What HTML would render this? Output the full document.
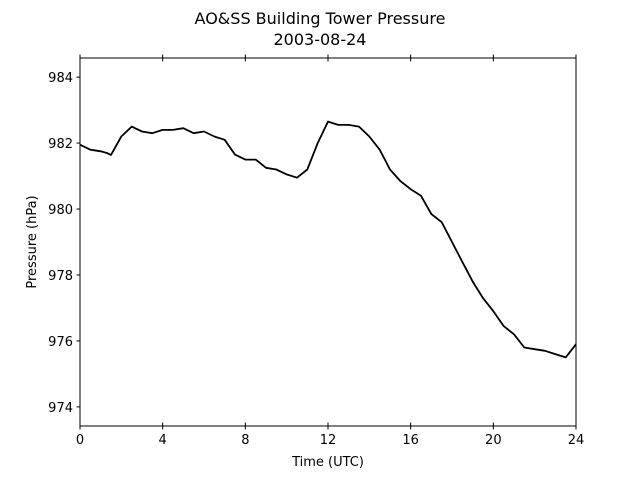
<!DOCTYPE html>
<html><head><meta charset="utf-8"><style>
body{margin:0;background:#fff;}
svg text{font-family:"DejaVu Sans","Liberation Sans",sans-serif;}
</style></head><body>
<svg id="chart" width="640" height="480" xmlns="http://www.w3.org/2000/svg">
<rect width="640" height="480" fill="#fff"/>
<text x="320" y="24" text-anchor="middle" font-size="16">AO&amp;SS Building Tower Pressure</text>
<text x="320" y="45" text-anchor="middle" font-size="16">2003-08-24</text>
<g id="axes"></g>
<text x="328" y="466" text-anchor="middle" font-size="13">Time (UTC)</text>
<text transform="translate(36,242) rotate(-90)" text-anchor="middle" font-size="13">Pressure (hPa)</text>
</svg>
<script>
const hours=[0,0.5,1,1.3,1.5,2,2.5,3,3.5,4,4.5,5,5.5,6,6.5,7,7.5,8,8.5,9,9.5,10,10.5,11,11.5,12,12.5,13,13.5,14,14.5,15,15.5,16,16.5,17,17.5,18,18.5,19,19.5,20,20.5,21,21.5,22,22.5,23,23.5,24];
const pressure=[981.95,981.8,981.75,981.7,981.64,982.2,982.5,982.35,982.3,982.4,982.4,982.45,982.3,982.35,982.2,982.1,981.65,981.5,981.5,981.25,981.2,981.05,980.95,981.2,982.0,982.65,982.55,982.55,982.5,982.2,981.8,981.2,980.85,980.6,980.4,979.85,979.6,979.0,978.4,977.8,977.3,976.9,976.45,976.2,975.8,975.75,975.7,975.6,975.5,975.9];
const xTicks=[0,4,8,12,16,20,24];
const yTicks=[974,976,978,980,982,984];
const X0=80,X1=576,Y0=58,Y1=426,xMin=0,xMax=24,yMin=973.42,yMax=984.58;
const xs=v=>X0+(v-xMin)/(xMax-xMin)*(X1-X0);
const ys=v=>Y1-(v-yMin)/(yMax-yMin)*(Y1-Y0);
const NS='http://www.w3.org/2000/svg';
const g=document.getElementById('axes');
function mk(t,a){const e=document.createElementNS(NS,t);for(const k in a)e.setAttribute(k,a[k]);g.appendChild(e);return e;}
const frame=mk('rect',{x:X0,y:Y0,width:X1-X0,height:Y1-Y0,fill:'none',stroke:'#000','stroke-width':1});


xTicks.forEach(v=>{const x=xs(v);
const t1=mk('line',{x1:x,x2:x,y1:Y1-3.5,y2:Y1+3.5,stroke:'#000'});


const t2=mk('line',{x1:x,x2:x,y1:Y0-3.5,y2:Y0+3.5,stroke:'#000'});


const l=mk('text',{x:x,y:Y1+18,'text-anchor':'middle','font-size':13});l.textContent=v;


});
yTicks.forEach(v=>{const y=ys(v);
const t=mk('line',{x1:X0-3.5,x2:X0,y1:y,y2:y,stroke:'#000'});


const l=mk('text',{x:X0-7,y:y+5,'text-anchor':'end','font-size':13});l.textContent=v;


});
const d=hours.map((h,i)=>(i?'L':'M')+xs(h).toFixed(1)+','+ys(pressure[i]).toFixed(1)).join('');
const line=mk('path',{d:d,fill:'none',stroke:'#000','stroke-width':1.8,'stroke-linejoin':'round'});


</script>
</body></html>
